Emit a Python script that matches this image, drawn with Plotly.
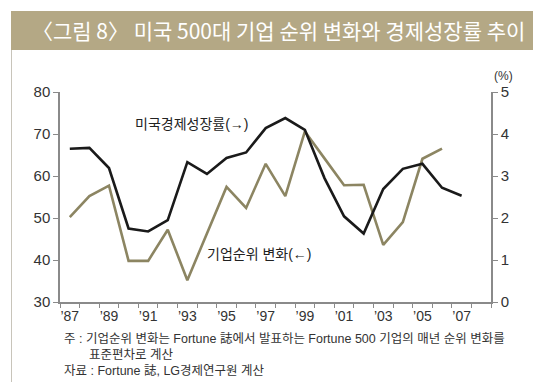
import plotly.graph_objects as go

years = list(range(1987, 2008))
growth = [3.65, 3.67, 3.19, 1.75, 1.68, 1.95, 3.33, 3.05, 3.43, 3.56, 4.14,
          4.38, 4.10, 2.95, 2.04, 1.63, 2.69, 3.17, 3.29, 2.72, 2.53]
rank_years = list(range(1987, 2007))
rank_change = [50.2, 55.2, 57.7, 39.8, 39.8, 47.2, 35.2, 46.4, 57.4, 52.4,
               62.9, 55.2, 70.6, 64.2, 57.8, 57.9, 43.6, 49.0, 64.1, 66.5]
x_tickvals = [1987, 1989, 1991, 1993, 1995, 1997, 1999, 2001, 2003, 2005, 2007]
x_ticktext = ["\u201987", "\u201989", "\u201991", "\u201993", "\u201995", "\u201997",
              "\u201999", "\u201901", "\u201903", "\u201905", "\u201907"]
left_ticks = [30, 40, 50, 60, 70, 80]
right_ticks = [0, 1, 2, 3, 4, 5]

title_text = "〈그림 8〉 미국 500대 기업 순위 변화와 경제성장률 추이"
note1 = "주 : 기업순위 변화는 Fortune 誌에서 발표하는 Fortune 500 기업의 매년 순위 변화를"
note2 = "표준편차로 계산"
note3 = "자료 : Fortune 誌, LG경제연구원 계산"

W, H = 541, 382
L, R, T, B = 52, 483, 84, 294
FONT = "Liberation Sans, Noto Sans CJK KR"
GOLD = "#8c8562"
AXC = "#8a8a8a"


def px(x):
    return (x - L) / (R - L)


def py(y):
    return (B - y) / (B - T)


fig = go.Figure()
fig.add_trace(go.Scatter(x=rank_years, y=rank_change, mode="lines",
                         line=dict(color=GOLD, width=2.6), yaxis="y"))
fig.add_trace(go.Scatter(x=years, y=growth, mode="lines",
                         line=dict(color="#1a1a1a", width=2.6), yaxis="y2"))

fig.update_layout(
    width=W, height=H,
    margin=dict(l=L, r=W - R, t=T, b=H - B, pad=0, autoexpand=False),
    paper_bgcolor="white", plot_bgcolor="white",
    showlegend=False,
    font=dict(family=FONT, color="#333333"),
    xaxis=dict(range=[1986.5, 2008.5], tickmode="array", tickvals=x_tickvals,
               ticktext=x_ticktext, ticks="", showgrid=False, zeroline=False,
               showline=True, linecolor=AXC, linewidth=1.5, automargin=False,
               tickfont=dict(size=14, color="#333333"),
               minor=dict(tick0=1986.5, dtick=1, ticks="outside", ticklen=4,
                          tickcolor=AXC, tickwidth=1.2, showgrid=False)),
    yaxis=dict(range=[30, 80], tickmode="array", tickvals=left_ticks,
               ticks="outside", ticklen=5, tickcolor=AXC, tickwidth=1.2,
               showgrid=False, zeroline=False, showline=True, linecolor=AXC,
               linewidth=1.5, automargin=False,
               tickfont=dict(size=15, color="#333333")),
    yaxis2=dict(range=[0, 5], tickmode="array", tickvals=right_ticks,
                overlaying="y", side="right", ticks="outside", ticklen=5,
                tickcolor=AXC, tickwidth=1.2, showgrid=False, zeroline=False,
                showline=True, linecolor=AXC, linewidth=1.5, automargin=False,
                tickfont=dict(size=15, color="#333333")),
)

shapes = [
    dict(type="rect", xref="paper", yref="paper", x0=px(3), x1=px(534),
         y0=py(42), y1=py(3), fillcolor="#b4a885", line=dict(width=0),
         layer="below"),
    dict(type="line", xref="paper", yref="paper", x0=px(3.5), x1=px(3.5),
         y0=py(42), y1=py(377), line=dict(color="#c8c4ba", width=1)),
    dict(type="line", xref="paper", yref="paper", x0=px(533.5), x1=px(533.5),
         y0=py(42), y1=py(377), line=dict(color="#c8c4ba", width=1)),
    dict(type="line", xref="paper", yref="paper", x0=px(3.5), x1=px(533.5),
         y0=py(377), y1=py(377), line=dict(color="#c8c4ba", width=1.2)),
]
fig.update_layout(shapes=shapes)

ann = [
    dict(text=title_text, x=px(270), y=py(22), xanchor="center", yanchor="middle",
         font=dict(size=21, color="white", family="Noto Sans CJK KR")),
    dict(text="(%)", x=px(495), y=py(68), xanchor="center", yanchor="middle",
         font=dict(size=12, color="#333333")),
    dict(text="미국경제성장률(→)", x=px(125), y=py(116), xanchor="left",
         yanchor="middle", font=dict(size=14, color="#222222")),
    dict(text="기업순위 변화(←)", x=px(197), y=py(246), xanchor="left",
         yanchor="middle", font=dict(size=14, color="#222222")),
    dict(text=note1, x=px(54), y=py(331), xanchor="left", yanchor="middle",
         font=dict(size=12.5, color="#333333")),
    dict(text=note2, x=px(79), y=py(347), xanchor="left", yanchor="middle",
         font=dict(size=12.5, color="#333333")),
    dict(text=note3, x=px(54), y=py(363), xanchor="left", yanchor="middle",
         font=dict(size=12.5, color="#333333")),
]
for a in ann:
    a.update(xref="paper", yref="paper", showarrow=False)
fig.update_layout(annotations=ann)

fig.write_html("out.html")
